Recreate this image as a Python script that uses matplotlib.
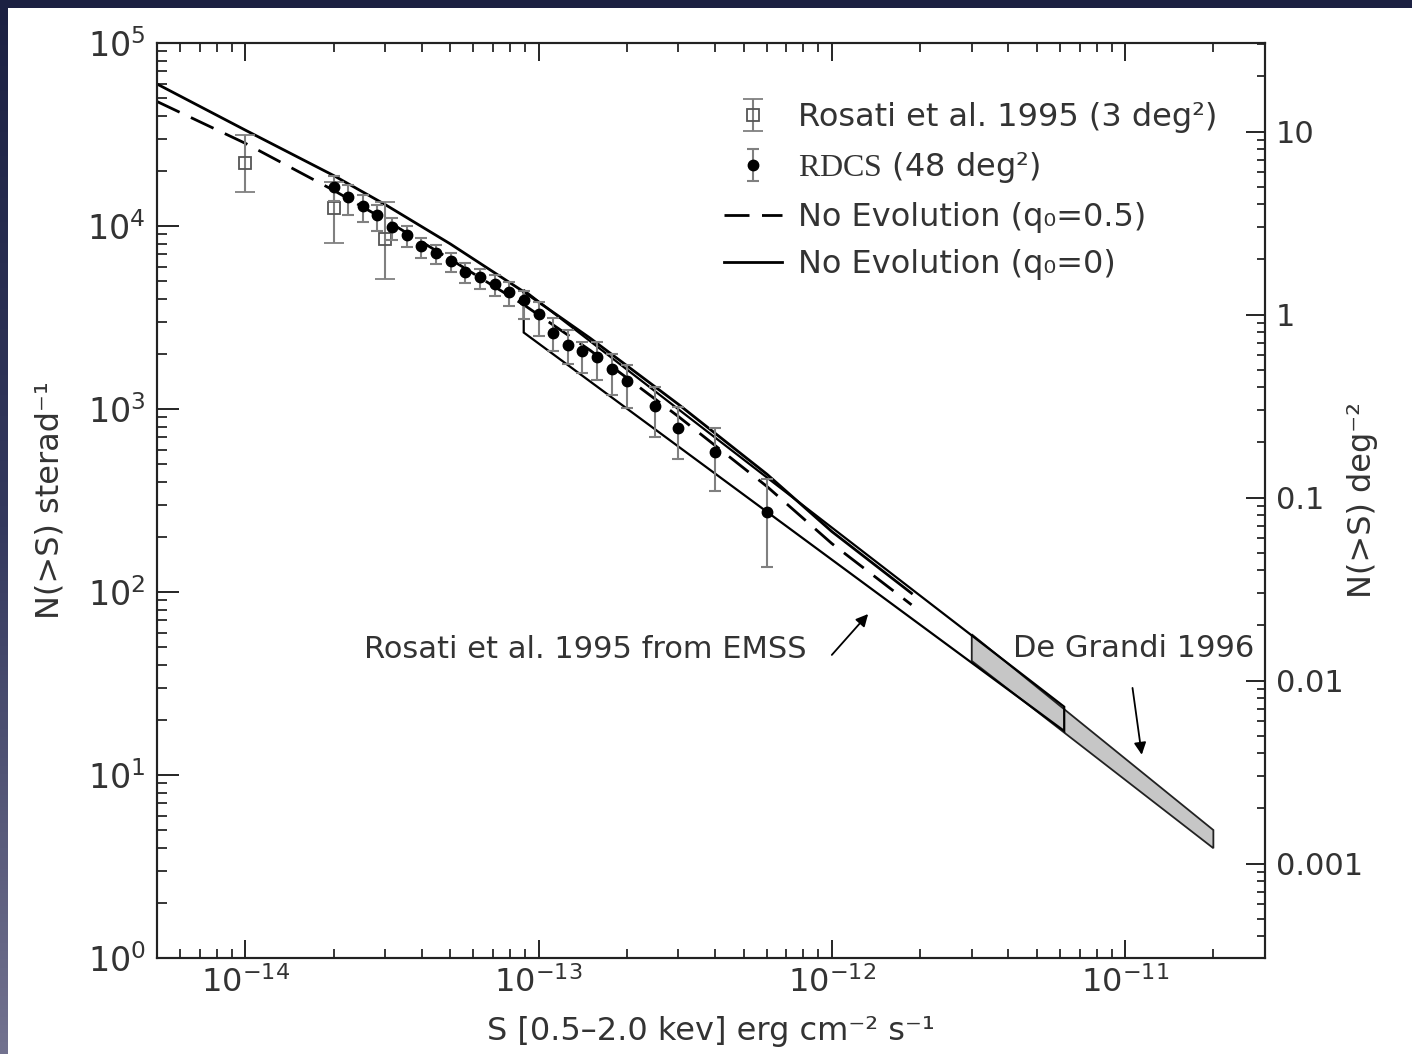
'''
cumulative X-ray cluster counts N(>S) : RDCS vs Rosati 1995, EMSS and De Grandi 1996
'''
import numpy as np
import matplotlib
matplotlib.use('Agg')
import matplotlib.pyplot as plt
from matplotlib.patches import Polygon, Rectangle

plt.rcParams['font.family'] = ['DejaVu Sans']
plt.rcParams['mathtext.fontset'] = 'custom'
plt.rcParams['mathtext.rm'] = 'Liberation Serif'
plt.rcParams['mathtext.sf'] = 'DejaVu Sans'
plt.rcParams['mathtext.it'] = 'DejaVu Sans:italic'

SR_TO_DEG2 = (180.0 / np.pi) ** 2
TXT = '#333333'
ERR = '#808080'

# RDCS (48 deg^2) : flux, N(>S) per steradian and error-bar ends
rdcs_s = [2.0e-14, 2.24e-14, 2.51e-14, 2.82e-14, 3.16e-14, 3.55e-14, 3.98e-14,
          4.47e-14, 5.01e-14, 5.62e-14, 6.31e-14, 7.08e-14, 7.94e-14, 8.91e-14,
          1.0e-13, 1.12e-13, 1.26e-13, 1.41e-13, 1.58e-13, 1.78e-13, 2.0e-13,
          2.5e-13, 3.0e-13, 4.0e-13, 6.0e-13]
rdcs_n = [16400, 14460, 12910, 11440, 9840, 8930, 7780, 7075, 6440, 5590,
          5245, 4820, 4380, 3930, 3305, 2616, 2237, 2075, 1931, 1654, 1422,
          1038, 790, 584, 275]
rdcs_lo = [13720, 11490, 10470, 9425, 8385, 7680, 6660, 6175, 5627, 4863,
           4510, 4145, 3655, 3092, 2506, 2083, 1762, 1573, 1441, 1193, 1009,
           706, 531, 356, 137]
rdcs_hi = [18830, 16750, 14770, 13020, 11100, 10000, 8600, 7905, 7147, 6254,
           5800, 5398, 4962, 4430, 3858, 3150, 2712, 2309, 2315, 1998, 1740,
           1314, 1022, 790, 413]

# Rosati et al. 1995 (3 deg^2)
ros_s = [1.0e-14, 2.0e-14, 3.0e-14]
ros_n = [22180, 12500, 8490]
ros_lo = [15280, 8110, 5130]
ros_hi = [31420, 17500, 13580]

# no-evolution models
model_s = [5e-15, 1e-14, 2e-14, 3e-14, 5e-14, 9e-14, 1.5e-13, 3e-13, 6e-13,
           1e-12, 1.87e-12]
model_q0 = [59700, 33420, 18880, 13090, 7985, 4321, 2437, 1060, 441, 214, 98.4]
model_q05 = [47890, 28310, 15670, 10800, 6586, 3668, 2091, 909, 378, 184, 85.1]

# Rosati et al. 1995 from EMSS (band edges)
emss_s = [8.9e-14, 6.2e-12]
emss_upper = [4470, 23.6]
emss_lower = [2618, 17.4]

# De Grandi 1996 (band edges)
dg_s = [3.0e-12, 2.0e-11]
dg_upper = [58.7, 5.0]
dg_lower = [42.0, 3.98]

x_ticks = [1e-14, 1e-13, 1e-12, 1e-11]
right_ticks = [10, 1, 0.1, 0.01, 0.001]
right_labels = ['10', '1', '0.1', '0.01', '0.001']


def main():
    ''' the main module '''

    fig = plt.figure(figsize=(14.12, 10.54), dpi=100)
    draw_background(fig)

    ax = fig.add_axes([0.1112, 0.0911, 0.7847, 0.8681])
    ax.set_xscale('log')
    ax.set_yscale('log')
    ax.set_xlim(5e-15, 3e-11)
    ax.set_ylim(1, 1e5)
    ax.set_xticks(x_ticks)
    ax.patch.set_alpha(0)

    # De Grandi shaded band
    dg_poly = Polygon(list(zip(dg_s + dg_s[::-1], dg_upper + dg_lower[::-1])),
                      closed=True, facecolor='#c6c6c6', edgecolor='#222222',
                      lw=1.3, zorder=2)
    ax.add_patch(dg_poly)

    # EMSS band outline
    emss_poly = Polygon(list(zip(emss_s + emss_s[::-1], emss_upper + emss_lower[::-1])),
                        closed=True, facecolor='none', edgecolor='black',
                        lw=1.6, zorder=3)
    ax.add_patch(emss_poly)

    # models
    l_dash, = ax.plot(model_s, model_q05, color='black', lw=2.0,
                      dashes=(9, 4.5), zorder=4)
    l_solid, = ax.plot(model_s, model_q0, color='black', lw=2.0, zorder=4)

    # data
    ros_n_a = np.array(ros_n)
    e_ros = ax.errorbar(ros_s, ros_n,
                        yerr=[ros_n_a - np.array(ros_lo), np.array(ros_hi) - ros_n_a],
                        fmt='s', ms=8.5, mfc='none', mec='#555555', mew=1.3,
                        ecolor=ERR, elinewidth=1.5, capsize=7, capthick=1.5,
                        zorder=5)
    rdcs_n_a = np.array(rdcs_n)
    e_rdcs = ax.errorbar(rdcs_s, rdcs_n,
                         yerr=[rdcs_n_a - np.array(rdcs_lo), np.array(rdcs_hi) - rdcs_n_a],
                         fmt='o', ms=7.5, mfc='black', mec='black',
                         ecolor=ERR, elinewidth=1.5, capsize=4.5, capthick=1.5,
                         zorder=6)

    leg = ax.legend([e_ros, e_rdcs, l_dash, l_solid],
                    ['Rosati et al. 1995 (3 deg²)',
                     r'$\mathrm{RDCS}$ (48 deg²)',
                     'No Evolution (q₀=0.5)',
                     'No Evolution (q₀=0)'],
                    loc='upper left', bbox_to_anchor=(0.512, 0.935),
                    frameon=False, fontsize=23, handlelength=1.8,
                    handletextpad=0.5, labelspacing=0.52, borderpad=0,
                    borderaxespad=0)
    for t in leg.get_texts():
        t.set_color(TXT)

    # annotations
    ax.text(2.54e-14, 48.2, 'Rosati et al. 1995 from EMSS', fontsize=22,
            color=TXT, va='center', ha='left')
    ax.annotate('', xy=(1.33e-12, 75.8), xytext=(1.0e-12, 45.3),
                arrowprops=dict(arrowstyle='-|>', color='black', lw=1.3,
                                mutation_scale=18, shrinkA=0, shrinkB=0))
    ax.text(4.14e-12, 49.4, 'De Grandi 1996', fontsize=22, color=TXT,
            va='center', ha='left')
    ax.annotate('', xy=(1.14e-11, 12.9), xytext=(1.06e-11, 29.9),
                arrowprops=dict(arrowstyle='-|>', color='black', lw=1.3,
                                mutation_scale=18, shrinkA=0, shrinkB=0))

    # axes cosmetics
    for sp in ax.spines.values():
        sp.set_linewidth(1.5)
        sp.set_color('#222222')
    ax.tick_params(axis='x', which='major', direction='in', top=True,
                   length=13, width=1.2, labelsize=23, labelcolor=TXT, pad=6)
    ax.tick_params(axis='x', which='minor', direction='in', top=True,
                   length=6.5, width=1.1)
    ax.tick_params(axis='y', which='major', direction='in', right=False,
                   length=16, width=1.2, labelsize=24, labelcolor=TXT, pad=8)
    ax.tick_params(axis='y', which='minor', direction='in', right=False,
                   length=7, width=1.1)
    ax.set_xlabel('S [0.5–2.0 kev] erg cm⁻² s⁻¹', fontsize=23, color=TXT,
                  labelpad=12)
    ax.set_ylabel('N(>S) sterad⁻¹', fontsize=23, color=TXT, labelpad=16)

    # right axis in deg^-2
    ax2 = ax.twinx()
    ax2.set_yscale('log')
    ax2.set_ylim(1 / SR_TO_DEG2, 1e5 / SR_TO_DEG2)
    ax2.set_yticks(right_ticks)
    ax2.set_yticklabels(right_labels)
    ax2.tick_params(axis='y', which='major', direction='in', length=14,
                    width=1.2, labelsize=22, labelcolor=TXT, pad=8)
    ax2.tick_params(axis='y', which='minor', direction='in', length=6,
                    width=1.1)
    for sp in ax2.spines.values():
        sp.set_linewidth(1.5)
        sp.set_color('#222222')
    ax2.set_ylabel('N(>S) deg⁻²', fontsize=23, color=TXT, labelpad=-12)

    fig.savefig('out.png', dpi=100)
    return


def draw_background(fig):
    ''' dark slide background with white panel '''

    bg = fig.add_axes([0, 0, 1, 1])
    grad = np.linspace(0, 1, 256).reshape(-1, 1)
    cmap = matplotlib.colors.LinearSegmentedColormap.from_list(
        'slide', ['#1c2142', '#34395e', '#72728f'])
    bg.imshow(grad, aspect='auto', cmap=cmap, extent=[0, 1, 0, 1],
              origin='upper')
    bg.add_patch(Rectangle((8 / 1412, 0), 1, 1 - 8 / 1054,
                           facecolor='white', edgecolor='none'))
    bg.set_xlim(0, 1)
    bg.set_ylim(0, 1)
    bg.axis('off')
    return


if __name__ == '__main__':
    main()
